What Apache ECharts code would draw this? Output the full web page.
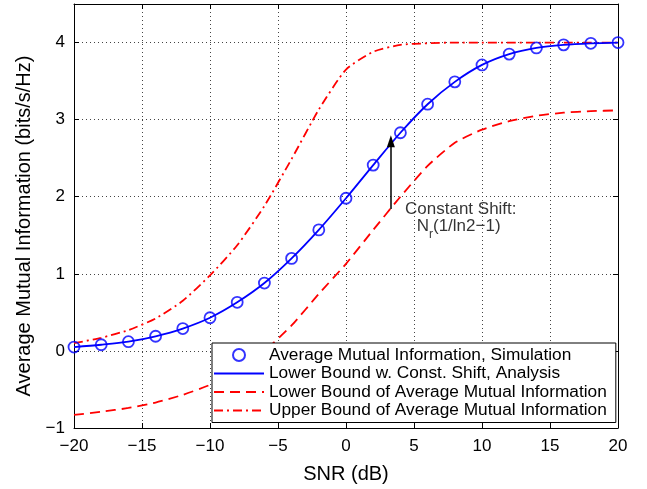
<!DOCTYPE html>
<html>
<head>
<meta charset="utf-8">
<script src="https://cdn.jsdelivr.net/npm/echarts@6/dist/echarts.min.js"></script>
<style>html,body{margin:0;padding:0;background:#fff}#c{width:647px;height:489px}</style>
</head>
<body>
<div id="c"></div>
<script>
const snr = [-20,-18,-16,-14,-12,-10,-8,-6,-4,-2,0,2,4,6,8,10,12,14,16,18,20];
const simulation = [0.05,0.08,0.12,0.19,0.29,0.43,0.63,0.88,1.2,1.57,1.98,2.41,2.83,3.2,3.49,3.71,3.85,3.93,3.97,3.99,4.0];
const analysis = [0.05,0.08,0.12,0.19,0.29,0.43,0.63,0.88,1.2,1.57,1.98,2.41,2.83,3.2,3.49,3.71,3.85,3.93,3.97,3.99,4.0];
const lowerBound = [-0.83,-0.79,-0.74,-0.67,-0.57,-0.44,-0.26,0.0,0.33,0.74,1.13,1.57,2.0,2.4,2.7,2.87,2.98,3.05,3.09,3.11,3.12];
const upperBound = [0.1,0.17,0.27,0.42,0.65,0.98,1.37,1.88,2.49,3.13,3.65,3.88,3.97,3.99,4.0,4.0,4.0,4.0,4.0,4.0,4.0];
const xTicks = [-20,-15,-10,-5,0,5,10,15,20];
const yTicks = [-1,0,1,2,3,4];
const arrowX = 3.3, arrowFrom = 1.84, arrowTo = 2.72;
const note1 = {x: 4.34, y: 1.84, text: 'Constant Shift:'};
const note2 = {x: 5.2, y: 1.61, text: 'N{s|r}(1/ln2−1)'};
const legendNames = ['Average Mutual Information, Simulation','Lower Bound w. Const. Shift, Analysis','Lower Bound of Average Mutual Information','Upper Bound of Average Mutual Information'];

const FONT = '"Liberation Sans", Arial, Helvetica, sans-serif';
const pair = (xs, ys) => xs.map((x, i) => [x, ys[i]]);
const minus = v => String(v).replace('-', '\u2212');

const chart = echarts.init(document.getElementById('c'), null, {renderer: 'canvas'});
const tickStyle = {show: true, inside: true, length: 5, lineStyle: {color: '#000', width: 1}};
const axisLine = {show: true, onZero: false, lineStyle: {color: '#000', width: 1}};
const grid = {show: true, lineStyle: {color: '#444', width: 1, type: [1, 3]}};

chart.setOption({
  animation: false,
  backgroundColor: '#fff',
  grid: {left: 74, right: 29, top: 4, bottom: 59, show: false},
  xAxis: [
    {type: 'value', min: -20, max: 20, interval: 5, position: 'bottom',
     name: 'SNR (dB)', nameLocation: 'middle', nameGap: 36,
     nameTextStyle: {fontFamily: FONT, fontSize: 20, color: '#000'},
     axisLine: axisLine, axisTick: tickStyle, splitLine: grid,
     axisLabel: {fontFamily: FONT, fontSize: 17, color: '#000', margin: 10, formatter: v => xTicks.includes(v) ? minus(v) : ''}},
    {type: 'value', min: -20, max: 20, interval: 5, position: 'top',
     axisLine: axisLine, axisTick: tickStyle, splitLine: {show: false}, axisLabel: {show: false}}
  ],
  yAxis: [
    {type: 'value', min: -1, max: 4.5, interval: 1, position: 'left',
     name: 'Average Mutual Information (bits/s/Hz)', nameLocation: 'middle', nameGap: 39,
     nameTextStyle: {fontFamily: FONT, fontSize: 20, color: '#000', padding: [0, 20, 0, 0]},
     axisLine: axisLine, axisTick: tickStyle, splitLine: grid,
     axisLabel: {fontFamily: FONT, fontSize: 17, color: '#000', margin: 9, formatter: v => yTicks.includes(v) ? minus(v) : ''}},
    {type: 'value', min: -1, max: 4.5, interval: 1, position: 'right',
     axisLine: axisLine, axisTick: tickStyle, splitLine: {show: false}, axisLabel: {show: false}}
  ],
  legend: {
    data: [
      {name: legendNames[0]},
      {name: legendNames[1], itemStyle: {opacity: 0}},
      {name: legendNames[2], itemStyle: {opacity: 0}},
      {name: legendNames[3], itemStyle: {opacity: 0}}
    ],
    orient: 'vertical', left: 212, top: 343,
    backgroundColor: '#fff', borderColor: '#000', borderWidth: 1,
    padding: [3, 9, 3, 1], itemGap: 0.5, itemWidth: 50, itemHeight: 12,
    textStyle: {fontFamily: FONT, fontSize: 17.3, color: '#000', lineHeight: 18},
    selectedMode: false
  },
  series: [
    {name: legendNames[1], type: 'line', data: pair(snr, analysis), smooth: 0.3,
     symbol: 'none', lineStyle: {color: '#0000ff', width: 1.8}, itemStyle: {color: '#0000ff'}, z: 3},
    {name: legendNames[2], type: 'line', data: pair(snr, lowerBound), smooth: 0.2,
     symbol: 'none', lineStyle: {color: '#ff0000', width: 1.8, type: [10, 6]}, itemStyle: {color: '#ff0000'}, z: 2},
    {name: legendNames[3], type: 'line', data: pair(snr, upperBound), smooth: 0.2,
     symbol: 'none', lineStyle: {color: '#ff0000', width: 1.8, type: [9, 4, 2, 4]}, itemStyle: {color: '#ff0000'}, z: 2},
    {name: legendNames[0], type: 'scatter', data: pair(snr, simulation),
     symbol: 'circle', symbolSize: 11,
     itemStyle: {color: 'rgba(255,255,255,0)', borderColor: '#0000ff', borderWidth: 1.8}, z: 4},
    {name: 'annot', type: 'line', data: [], symbol: 'none',
     markLine: {silent: true, symbol: ['none', 'triangle'], symbolSize: [8, 12],
       lineStyle: {color: '#000', width: 1.5, type: 'solid'}, label: {show: false},
       data: [[{coord: [arrowX, arrowFrom]}, {coord: [arrowX, arrowTo]}]]}},
    {name: 'notes', type: 'scatter', symbolSize: 0, silent: true,
     data: [[note1.x, note1.y, note1.text], [note2.x, note2.y, note2.text]],
     label: {show: true, position: 'right', distance: 0, formatter: p => p.data[2],
       fontFamily: FONT, fontSize: 17, color: '#000',
       rich: {s: {fontFamily: FONT, fontSize: 12, color: '#000', verticalAlign: 'bottom', padding: [0, 0, -5, 0]}}}}
  ]
});
</script>
</body>
</html>
